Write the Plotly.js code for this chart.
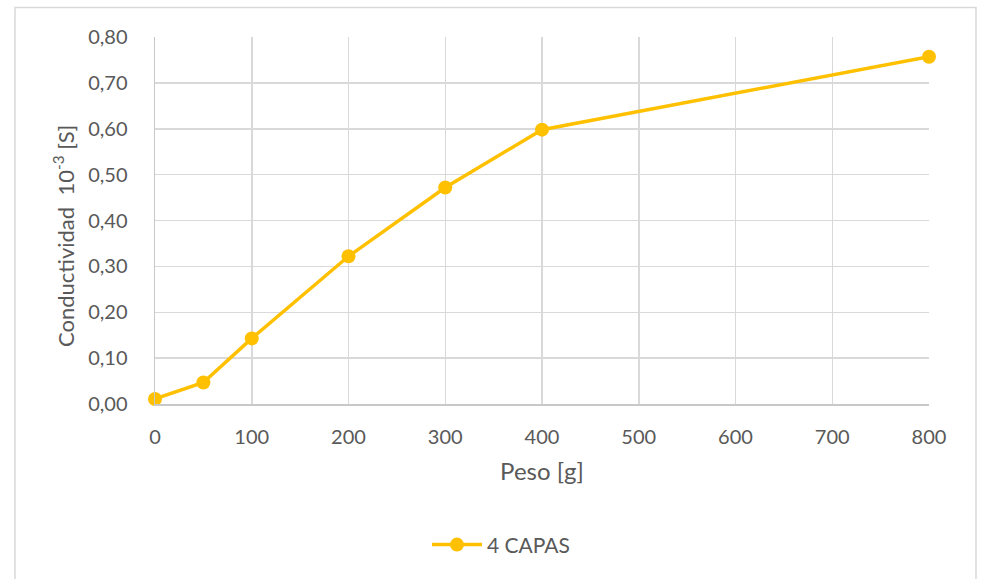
<!DOCTYPE html>
<html>
<head>
<meta charset="utf-8">
<script src="https://cdn.plot.ly/plotly-3.0.1.min.js"></script>
<style>
  html, body { margin: 0; padding: 0; background: #ffffff; }
  #chart { width: 984px; height: 579px; }
</style>
</head>
<body>
<div id="chart"></div>
<script>
// Peso aplicado [g] y conductividad medida (x10^-3 S) para la muestra de 4 capas
const peso = [0, 50, 100, 200, 300, 400, 800];
const conductividad = [0.011, 0.047, 0.143, 0.322, 0.472, 0.598, 0.757];
const serieNombre = '4 CAPAS';
const xTicks = [0, 100, 200, 300, 400, 500, 600, 700, 800];
const yTicks = [0, 0.1, 0.2, 0.3, 0.4, 0.5, 0.6, 0.7, 0.8];

const textColor = '#595959';
const gridColor = '#d9d9d9';
const font = 'Lato, "Open Sans", sans-serif';

const trace = {
  x: peso,
  y: conductividad,
  name: serieNombre,
  type: 'scatter',
  mode: 'lines+markers',
  line: { color: '#FFC000', width: 3.5 },
  marker: { color: '#FFC000', size: 14 },
  cliponaxis: false
};

const layout = {
  width: 984,
  height: 579,
  margin: { l: 155, r: 55, t: 37, b: 175 },
  paper_bgcolor: '#ffffff',
  plot_bgcolor: '#ffffff',
  separators: ',.',
  font: { family: font, color: textColor, size: 20 },
  showlegend: true,
  legend: {
    orientation: 'h',
    x: 0.447, xanchor: 'center',
    y: -0.384, yanchor: 'middle',
    font: { family: font, size: 21, color: textColor },
    itemwidth: 50
  },
  xaxis: {
    range: [0, 800],
    tickvals: xTicks,
    ticktext: xTicks.map(String),
    showgrid: true,
    gridcolor: gridColor,
    gridwidth: 1.5,
    zeroline: false,
    showline: true,
    linecolor: '#c8c8c8',
    linewidth: 1.5,
    ticks: '',
    ticklabelstandoff: 14,
    tickfont: { family: font, size: 20, color: textColor },
    title: { text: 'Peso [g]', font: { family: font, size: 24, color: textColor }, standoff: 16 }
  },
  yaxis: {
    range: [0, 0.8],
    tickvals: yTicks,
    tickformat: '.2f',
    showgrid: true,
    gridcolor: gridColor,
    gridwidth: 1.5,
    zeroline: false,
    showline: true,
    linecolor: '#c8c8c8',
    linewidth: 1.5,
    ticks: '',
    ticklabelstandoff: 22,
    tickfont: { family: font, size: 20, color: textColor }
  },
  annotations: [
    {
      // título del eje vertical, algo por debajo del centro del área de trazado
      text: 'Conductividad  10<sup>-3</sup> [S]',
      xref: 'paper', yref: 'paper',
      x: -0.118, y: 0.457,
      xanchor: 'center', yanchor: 'middle',
      textangle: -90,
      showarrow: false,
      font: { family: font, size: 22, color: textColor }
    }
  ],
  shapes: [
    {
      // marco exterior del gráfico
      type: 'rect', xref: 'paper', yref: 'paper',
      x0: -0.1809, x1: 1.0607, y0: -0.5, y1: 1.0804,
      line: { color: '#d9d9d9', width: 1.5 },
      fillcolor: 'rgba(0,0,0,0)',
      layer: 'below'
    }
  ]
};

Plotly.newPlot('chart', [trace], layout, { displayModeBar: false, staticPlot: true });
</script>
</body>
</html>
